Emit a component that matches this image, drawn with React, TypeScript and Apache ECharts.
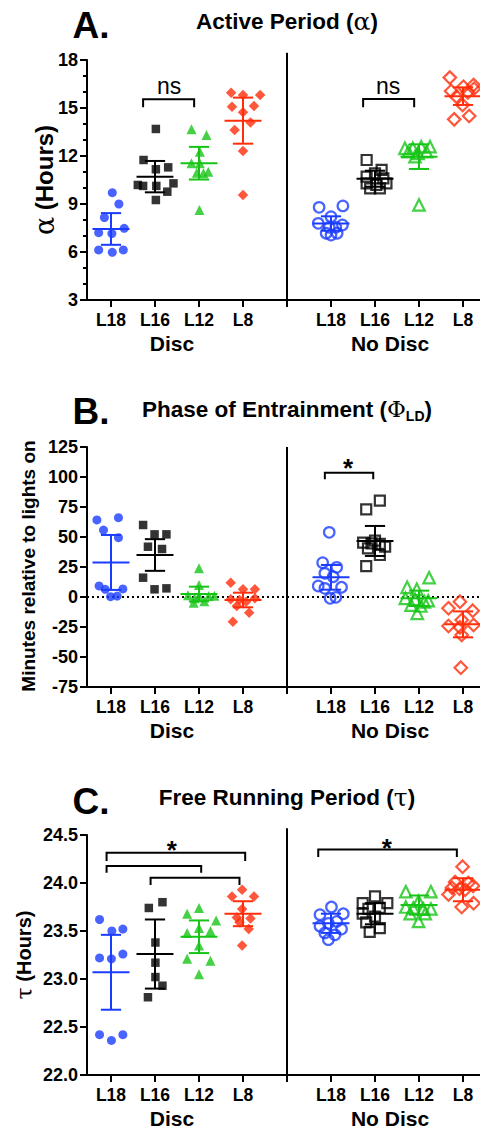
import React, { useEffect, useRef } from "react";
import * as echarts from "echarts";

const CATEGORIES = ["L18", "L16", "L12", "L8"];
const COLORS = ["#1a3cff", "#000000", "#16c416", "#ff2d0a"];
const SYMBOLS = ["circle", "rect", "triangle", "diamond"];
const FILLED_SIZES = [9, 8.5, 10, 10.5];
const OPEN_SIZES = [10.5, 10, 11.5, 12.5];

// ---------- Panel A: Active period (alpha), hours ----------
const alphaDisc = [
  [9.71, 9.0, 8.15, 7.48, 7.21, 7.15, 6.13, 5.98, 6.13],
  [13.69, 11.75, 11.29, 11.17, 10.19, 10.13, 10.13, 10.29, 9.77, 9.25],
  [13.67, 13.31, 12.27, 11.54, 11.54, 11.02, 10.96, 10.92, 8.63],
  [15.96, 15.81, 15.81, 15.08, 15.13, 14.73, 14.1, 13.63, 12.31, 9.56],
];
const alphaDiscJitter = [
  [0.03, 0.18, -0.15, 0.3, -0.28, 0.02, -0.28, 0.03, 0.28],
  [0.02, -0.26, 0.3, 0.02, -0.39, -0.27, 0.03, 0.42, 0.28, 0.02],
  [-0.17, 0.17, 0.02, -0.17, 0.02, 0.21, -0.05, 0.1, 0.01],
  [-0.27, 0, 0.39, -0.25, 0.25, 0, 0.17, -0.19, 0, 0],
];
const alphaNoDisc = [
  [8.79, 8.88, 8.21, 7.79, 7.69, 7.54, 7.54, 7.17, 7.17, 7.06],
  [11.75, 11.13, 10.92, 10.71, 10.6, 10.29, 10.19, 10.29, 9.98, 9.98],
  [12.48, 12.48, 12.58, 12.58, 12.27, 12.17, 12.27, 11.96, 8.94],
  [16.9, 16.33, 16.44, 16.06, 15.98, 15.71, 15.19, 14.29, 14.5, 16.2],
];
const alphaNoDiscJitter = [
  [-0.27, 0.27, 0, -0.29, 0.26, -0.04, 0.11, -0.11, 0.14, 0],
  [-0.19, 0.15, 0, -0.19, 0.19, -0.19, 0.03, 0.26, -0.11, 0.11],
  [-0.32, -0.14, 0.05, 0.25, -0.24, -0.02, 0.17, -0.09, 0],
  [-0.3, 0.01, 0.24, -0.27, 0.11, -0.15, -0.01, -0.2, 0.14, 0.25],
];
const alphaMeanDisc = [7.44, 10.71, 11.55, 14.21];
const alphaSdDisc = [0.99, 0.98, 1.02, 1.44];
const alphaMeanNoDisc = [7.78, 10.58, 11.96, 15.74];
const alphaSdNoDisc = [0.45, 0.5, 0.77, 0.55];

// ---------- Panel B: Phase of entrainment, minutes ----------
const phaseDisc = [
  [64.2, 66.1, 55.8, 49.4, 9.2, 6.4, 6.7, 0.3, 0.8],
  [60.0, 52.2, 52.2, 41.9, 40.0, 16.1, 6.4, 7.2],
  [23.9, 10.0, 1.5, 0.8, 0.8, -1.0, -4.7, -3.5, 1.0],
  [11.9, 6.4, 6.4, -1.9, -2.5, -3.9, -7.5, -13.1, -20.6, -1.1],
];
const phaseDiscJitter = [
  [-0.32, 0.17, -0.17, 0.17, -0.27, -0.13, 0.27, -0.01, 0.14],
  [-0.27, -0.01, 0.26, -0.16, 0.16, -0.27, -0.01, 0.26],
  [0, 0, -0.25, 0, 0.22, -0.1, -0.12, 0.12, 0.35],
  [-0.28, 0, 0.27, -0.28, -0.08, 0.07, -0.14, 0.14, -0.23, 0.27],
];
const phaseNoDisc = [
  [53.9, 28.6, 24.7, 19.7, 16.9, 9.2, 8.1, 7.2, -1.1, -0.3],
  [80.3, 73.1, 45.3, 44.7, 44.2, 41.9, 40.5, 35.0, 25.8, 47.0],
  [16.1, 8.1, 6.4, -1.1, -1.9, -3.1, -6.7, -7.5, -13.6, -4.0],
  [-3.9, -9.4, -11.4, -19.2, -24.2, -23.3, -25.3, -31.7, -58.9],
];
const phaseNoDiscJitter = [
  [-0.04, -0.19, 0.13, -0.14, 0.05, -0.29, 0.24, -0.14, -0.02, 0.11],
  [0.11, -0.2, -0.27, -0.08, 0.11, 0.23, -0.16, 0.11, -0.2, 0.0],
  [0.23, -0.27, -0.05, -0.31, -0.09, 0.21, -0.18, 0.04, -0.04, 0.12],
  [-0.07, -0.33, 0.22, -0.03, -0.33, 0.24, -0.07, -0.03, -0.05],
];
const phaseMeanDisc = [28.8, 35.0, 2.5, -2.5];
const phaseSdDisc = [22.9, 13.2, 6.1, 6.1];
const phaseMeanNoDisc = [16.4, 46.7, -1.1, -22.8];
const phaseSdNoDisc = [10.3, 12.5, 6.4, 10.8];

// ---------- Panel C: Free running period (tau), hours ----------
const tauDisc = [
  [23.62, 23.5, 23.52, 23.22, 23.21, 23.26, 22.42, 22.36, 22.42],
  [23.74, 23.8, 23.38, 23.17, 23.02, 22.93, 22.81],
  [23.68, 23.74, 23.61, 23.48, 23.53, 23.5, 23.35, 23.21, 23.19, 23.05],
  [23.93, 23.86, 23.86, 23.73, 23.64, 23.63, 23.59, 23.52, 23.35],
];
const tauDiscJitter = [
  [-0.26, 0.02, 0.27, -0.26, 0.01, 0.27, -0.26, 0.01, 0.27],
  [-0.14, 0.17, 0.01, 0.01, 0.01, 0.17, -0.16],
  [-0.27, 0, 0.39, -0.27, 0, 0.26, 0, -0.27, 0.26, 0],
  [-0.02, -0.25, 0.25, -0.02, -0.14, 0.17, -0.08, 0.13, -0.02],
];
const tauNoDisc = [
  [23.75, 23.67, 23.68, 23.58, 23.6, 23.55, 23.52, 23.48, 23.46, 23.41],
  [23.86, 23.79, 23.79, 23.73, 23.74, 23.68, 23.65, 23.59, 23.53, 23.49],
  [23.91, 23.91, 23.81, 23.75, 23.73, 23.74, 23.73, 23.68, 23.68, 23.6],
  [24.17, 24.01, 24.0, 23.94, 23.97, 23.95, 23.93, 23.88, 23.75, 23.79],
];
const tauNoDiscJitter = [
  [0.01, -0.25, 0.28, -0.06, 0.13, -0.25, 0.24, -0.14, 0.09, -0.06],
  [0, -0.28, 0.28, -0.15, 0.11, -0.28, 0, -0.2, 0.11, -0.12],
  [-0.3, 0.27, -0.01, -0.3, 0.27, -0.13, 0.1, -0.2, 0.14, -0.01],
  [-0.01, -0.18, 0.12, -0.08, 0.23, -0.25, 0.05, -0.33, -0.03, 0.24],
];
const tauMeanDisc = [23.07, 23.26, 23.44, 23.68];
const tauSdDisc = [0.39, 0.36, 0.17, 0.13];
const tauMeanNoDisc = [23.58, 23.68, 23.77, 23.93];
const tauSdNoDisc = [0.1, 0.11, 0.1, 0.12];

// significance brackets: [x1, x2, yTop, yEnd]
const alphaBrackets = [
  [0.73, 1.89, 15.54, 15.05],
  [5.73, 6.89, 15.56, 15.05],
];
const phaseBrackets = [[4.86, 5.96, 103.6, 98.1]];
const tauBrackets = [
  [-0.1, 3.05, 24.316, 24.23],
  [-0.1, 2.05, 24.177, 24.107],
  [0.9, 2.92, 24.055, 23.98],
  [4.71, 7.86, 24.35, 24.27],
];
const alphaSig = [
  [1.32, 16.375, "ns"],
  [6.3, 16.375, "ns"],
];
const phaseSig = [[5.39, 107.5, "*"]];
const tauSig = [
  [1.38, 24.34, "*"],
  [6.27, 24.36, "*"],
];

const X_MIN = -0.545;
const X_MAX = 8.386;
const GROUP_OFFSET = 5;
const DIVIDER_X = 4;

const FONT = '"Liberation Sans", Arial, Helvetica, sans-serif';
const GREEK = '"DejaVu Serif", "Liberation Serif", serif';

const panels = [
  {
    top: 60, yMin: 3, yMax: 18, interval: 3, minor: true, divTop: 18.45, zero: false, dec: 0,
    disc: alphaDisc, discJ: alphaDiscJitter, noDisc: alphaNoDisc, noDiscJ: alphaNoDiscJitter,
    meanD: alphaMeanDisc, sdD: alphaSdDisc, meanN: alphaMeanNoDisc, sdN: alphaSdNoDisc,
    brackets: alphaBrackets, sig: alphaSig,
  },
  {
    top: 447, yMin: -75, yMax: 125, interval: 25, minor: false, divTop: 125, zero: true, dec: 0,
    disc: phaseDisc, discJ: phaseDiscJitter, noDisc: phaseNoDisc, noDiscJ: phaseNoDiscJitter,
    meanD: phaseMeanDisc, sdD: phaseSdDisc, meanN: phaseMeanNoDisc, sdN: phaseSdNoDisc,
    brackets: phaseBrackets, sig: phaseSig,
  },
  {
    top: 835, yMin: 22, yMax: 24.5, interval: 0.5, minor: false, divTop: 24.57, zero: false, dec: 1,
    disc: tauDisc, discJ: tauDiscJitter, noDisc: tauNoDisc, noDiscJ: tauNoDiscJitter,
    meanD: tauMeanDisc, sdD: tauSdDisc, meanN: tauMeanNoDisc, sdN: tauSdNoDisc,
    brackets: tauBrackets, sig: tauSig,
  },
];

function buildOption() {
  const grid: any[] = [];
  const xAxis: any[] = [];
  const yAxis: any[] = [];
  const series: any[] = [];
  const black = "#000";

  panels.forEach((p, pi) => {
    grid.push({ left: 87, top: p.top, width: 393, height: 240, containLabel: false, outerBoundsMode: "none" });
    xAxis.push({
      type: "value",
      gridIndex: pi,
      min: X_MIN,
      max: X_MAX,
      splitLine: { show: false },
      axisLine: { show: true, onZero: false, lineStyle: { color: black, width: 2 } },
      axisTick: { show: true, length: 7, customValues: [0, 1, 2, 3, 4, 5, 6, 7, 8], lineStyle: { color: black, width: 2 } },
      axisLabel: {
        show: true,
        margin: 11,
        customValues: [0, 1, 2, 3, 5, 6, 7, 8],
        formatter: (v: number) => CATEGORIES[Math.round(v) % GROUP_OFFSET] || "",
        color: black,
        fontFamily: FONT,
        fontWeight: "bold",
        fontSize: 17.5,
      },
    });
    yAxis.push({
      type: "value",
      gridIndex: pi,
      min: p.yMin,
      max: p.yMax,
      interval: p.interval,
      splitLine: { show: false },
      axisLine: { show: true, onZero: false, lineStyle: { color: black, width: 2 } },
      axisTick: { show: true, length: 7, lineStyle: { color: black, width: 2 } },
      minorTick: { show: p.minor, splitNumber: 3, length: 4, lineStyle: { color: black, width: 2 } },
      axisLabel: {
        margin: 9,
        color: black,
        fontFamily: FONT,
        fontWeight: "bold",
        fontSize: 18,
        formatter: (v: number) => v.toFixed(p.dec),
      },
    });

    // zero dotted line
    if (p.zero) {
      series.push({
        type: "line", xAxisIndex: pi, yAxisIndex: pi, symbol: "none", silent: true, z: 1,
        data: [[X_MIN, 0], [X_MAX, 0]],
        lineStyle: { color: black, width: 2, type: [2, 3] },
      });
    }
    // divider
    series.push({
      type: "line", xAxisIndex: pi, yAxisIndex: pi, symbol: "none", silent: true, clip: false, z: 1,
      data: [[DIVIDER_X, p.yMin], [DIVIDER_X, p.divTop]],
      lineStyle: { color: black, width: 2 },
    });

    // scatter points
    [0, 1].forEach((g) => {
      const vals = g === 0 ? p.disc : p.noDisc;
      const jit = g === 0 ? p.discJ : p.noDiscJ;
      vals.forEach((arr, c) => {
        series.push({
          type: "scatter",
          xAxisIndex: pi,
          yAxisIndex: pi,
          symbol: SYMBOLS[c],
          symbolSize: g === 0 ? FILLED_SIZES[c] : OPEN_SIZES[c],
          silent: true,
          z: 2,
          itemStyle:
            g === 0
              ? { color: COLORS[c], borderWidth: 0 }
              : { color: "rgba(255,255,255,0)", borderColor: COLORS[c], borderWidth: 2.2 },
          data: arr.map((v, i) => [c + g * GROUP_OFFSET + jit[c][i], v]),
        });
      });
    });

    // error bars (mean ± SD)
    const ebData: number[][] = [];
    [0, 1].forEach((g) => {
      const means = g === 0 ? p.meanD : p.meanN;
      const sds = g === 0 ? p.sdD : p.sdN;
      means.forEach((m, c) => ebData.push([c + g * GROUP_OFFSET, m, sds[c], c]));
    });
    series.push({
      type: "custom",
      xAxisIndex: pi,
      yAxisIndex: pi,
      silent: true,
      z: 3,
      encode: { x: 0, y: 1 },
      data: ebData,
      renderItem: (params: any, api: any) => {
        const x = api.value(0);
        const m = api.value(1);
        const s = api.value(2);
        const color = COLORS[api.value(3)];
        const pm = api.coord([x, m]);
        const pt = api.coord([x, m + s]);
        const pb = api.coord([x, m - s]);
        const hw = api.size([0.42, 0])[0];
        const cw = api.size([0.23, 0])[0];
        const style = { stroke: color, lineWidth: 2, fill: "none" };
        return {
          type: "group",
          children: [
            { type: "line", shape: { x1: pt[0], y1: pt[1], x2: pb[0], y2: pb[1] }, style },
            { type: "line", shape: { x1: pt[0] - cw, y1: pt[1], x2: pt[0] + cw, y2: pt[1] }, style },
            { type: "line", shape: { x1: pb[0] - cw, y1: pb[1], x2: pb[0] + cw, y2: pb[1] }, style },
            { type: "line", shape: { x1: pm[0] - hw, y1: pm[1], x2: pm[0] + hw, y2: pm[1] }, style },
          ],
        };
      },
    });

    // brackets
    p.brackets.forEach((b) => {
      series.push({
        type: "line", xAxisIndex: pi, yAxisIndex: pi, symbol: "none", silent: true, clip: false, z: 3,
        data: [[b[0], b[3]], [b[0], b[2]], [b[1], b[2]], [b[1], b[3]]],
        lineStyle: { color: black, width: 2, join: "miter" },
      });
    });

    // significance labels
    const sig = p.sig;
    series.push({
      type: "custom",
      xAxisIndex: pi,
      yAxisIndex: pi,
      silent: true,
      clip: false,
      z: 4,
      encode: { x: 0, y: 1 },
      data: sig.map((s) => [s[0], s[1]]),
      renderItem: (params: any, api: any) => {
        const pt = api.coord([api.value(0), api.value(1)]);
        const txt = sig[params.dataIndex][2] as string;
        return {
          type: "text",
          x: pt[0],
          y: pt[1],
          style: {
            text: txt,
            fill: black,
            align: "center",
            verticalAlign: "middle",
            fontFamily: FONT,
            fontSize: txt === "ns" ? 23 : 26,
            fontWeight: txt === "ns" ? "normal" : "bold",
          },
        };
      },
    });
  });

  const txt = (x: number, y: number, text: string, size: number, extra: any = {}) => ({
    type: "text",
    x,
    y,
    silent: true,
    rotation: extra.rotation || 0,
    style: {
      text,
      fill: "#000",
      fontFamily: FONT,
      fontWeight: "bold",
      fontSize: size,
      align: "center",
      verticalAlign: "middle",
      lineHeight: extra.lineHeight,
      rich: extra.rich,
    },
  });
  const greek = (size: number) => ({ fontFamily: GREEK, fontWeight: "normal", fontSize: size, fill: "#000" });

  const graphic = [
    // panel letters
    txt(91, 25, "A.", 37),
    txt(91, 411, "B.", 37),
    txt(91, 801, "C.", 37),
    // titles
    txt(287, 21, "Active Period ({g|α})", 22.5, { rich: { g: greek(25) } }),
    txt(287, 409, "Phase of Entrainment ({g|Φ}{sub|LD})", 22.5, {
      lineHeight: 28,
      rich: {
        g: { ...greek(23), lineHeight: 28 },
        sub: { fontFamily: FONT, fontWeight: "bold", fontSize: 14, lineHeight: 14, verticalAlign: "bottom", fill: "#000" },
      },
    }),
    txt(287, 797, "Free Running Period ({g|τ})", 22.5, { rich: { g: greek(25) } }),
    // y axis names
    txt(44, 180, "{g|α} (Hours)", 24, { rotation: Math.PI / 2, rich: { g: greek(27) } }),
    txt(28, 566, "Minutes relative to lights on", 19, { rotation: Math.PI / 2 }),
    txt(24, 955, "{g|τ} (Hours)", 20, { rotation: Math.PI / 2, rich: { g: greek(22) } }),
    // group labels
    txt(172, 343, "Disc", 21),
    txt(390, 343, "No Disc", 21),
    txt(172, 730, "Disc", 21),
    txt(390, 730, "No Disc", 21),
    txt(172, 1118, "Disc", 21),
    txt(390, 1118, "No Disc", 21),
  ];

  return {
    animation: false,
    backgroundColor: "#ffffff",
    grid,
    xAxis,
    yAxis,
    series,
    graphic,
  };
}

export default function App() {
  const ref = useRef<HTMLDivElement>(null);
  useEffect(() => {
    document.body.style.margin = "0";
    if (!ref.current) return;
    const chart = echarts.init(ref.current, null, { renderer: "svg" });
    chart.setOption(buildOption() as any);
    return () => chart.dispose();
  }, []);
  return <div ref={ref} style={{ width: 480, height: 1128, background: "#fff" }} />;
}
